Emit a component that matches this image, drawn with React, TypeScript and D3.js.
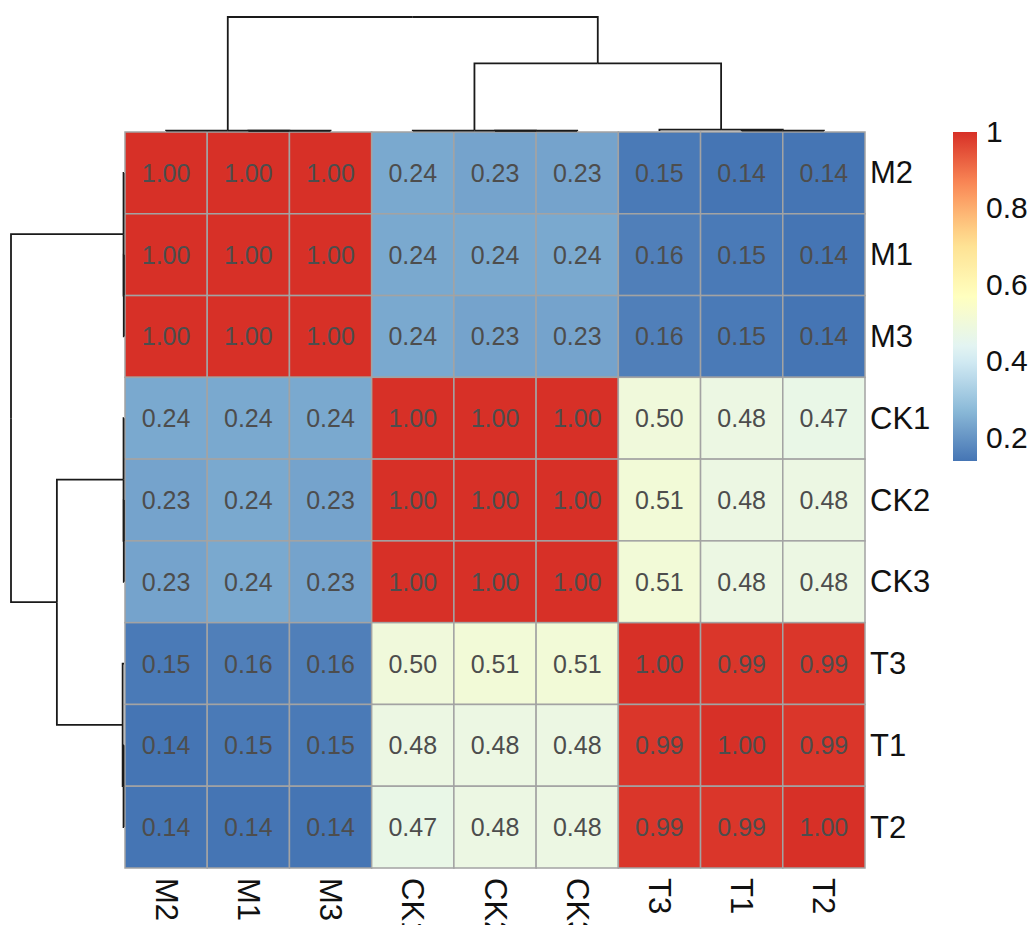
import React, { useEffect, useRef } from "react";
import * as d3 from "d3";

// sample order after clustering (rows and columns share it)
const rowLabels = ["M2", "M1", "M3", "CK1", "CK2", "CK3", "T3", "T1", "T2"];
const colLabels = ["M2", "M1", "M3", "CK1", "CK2", "CK3", "T3", "T1", "T2"];

const corrM2 = [1.0, 1.0, 1.0, 0.24, 0.23, 0.23, 0.15, 0.14, 0.14];
const corrM1 = [1.0, 1.0, 1.0, 0.24, 0.24, 0.24, 0.16, 0.15, 0.14];
const corrM3 = [1.0, 1.0, 1.0, 0.24, 0.23, 0.23, 0.16, 0.15, 0.14];
const corrCK1 = [0.24, 0.24, 0.24, 1.0, 1.0, 1.0, 0.5, 0.48, 0.47];
const corrCK2 = [0.23, 0.24, 0.23, 1.0, 1.0, 1.0, 0.51, 0.48, 0.48];
const corrCK3 = [0.23, 0.24, 0.23, 1.0, 1.0, 1.0, 0.51, 0.48, 0.48];
const corrT3 = [0.15, 0.16, 0.16, 0.5, 0.51, 0.51, 1.0, 0.99, 0.99];
const corrT1 = [0.14, 0.15, 0.15, 0.48, 0.48, 0.48, 0.99, 1.0, 0.99];
const corrT2 = [0.14, 0.14, 0.14, 0.47, 0.48, 0.48, 0.99, 0.99, 1.0];
const corrRows = [corrM2, corrM1, corrM3, corrCK1, corrCK2, corrCK3, corrT3, corrT1, corrT2];

const legendTicks = [0.2, 0.4, 0.6, 0.8, 1];
// rev(brewer.pal(7, "RdYlBu"))
const paletteColors = ["#4575B4", "#91BFDB", "#E0F3F8", "#FFFFBF", "#FEE090", "#FC8D59", "#D73027"];

// hclust tree: leaves are indices into the order above, h = merge height (relative)
type Node = number | { h: number; children: Node[] };
const rowTree: Node = {
  h: 1,
  children: [
    { h: 0.004, children: [0, { h: 0.002, children: [1, 2] }] },
    {
      h: 0.594,
      children: [
        { h: 0.004, children: [3, { h: 0.002, children: [4, 5] }] },
        { h: 0.012, children: [6, { h: 0.004, children: [7, 8] }] },
      ],
    },
  ],
};
const colTree: Node = rowTree;

const W = 1033;
const H = 925;

export default function App() {
  const ref = useRef<SVGSVGElement>(null);

  useEffect(() => {
    const svg = d3.select(ref.current);
    svg.selectAll("*").remove();

    const left = 125, right = 865, top = 132, bottom = 868;
    const x = d3.scaleBand().domain(d3.range(colLabels.length) as any).range([left, right]);
    const y = d3.scaleBand().domain(d3.range(rowLabels.length) as any).range([top, bottom]);

    const all = corrRows.flat();
    const vmin = d3.min(all) as number, vmax = d3.max(all) as number;
    const color = d3
      .scaleLinear<string>()
      .domain(paletteColors.map((_, i) => vmin + ((vmax - vmin) * i) / (paletteColors.length - 1)))
      .range(paletteColors)
      .interpolate(d3.interpolateRgb);

    const font = "'Liberation Sans', Arial, sans-serif";

    // cells
    const cells = svg.append("g");
    corrRows.forEach((row, r) => {
      row.forEach((v, c) => {
        cells
          .append("rect")
          .attr("x", x(c as any)!)
          .attr("y", y(r as any)!)
          .attr("width", x.bandwidth())
          .attr("height", y.bandwidth())
          .attr("fill", color(v))
          .attr("stroke", "#a3a3a3")
          .attr("stroke-width", 1.5);
      });
    });
    corrRows.forEach((row, r) => {
      row.forEach((v, c) => {
        cells
          .append("text")
          .attr("x", x(c as any)! + x.bandwidth() / 2)
          .attr("y", y(r as any)! + y.bandwidth() / 2)
          .attr("text-anchor", "middle")
          .attr("dominant-baseline", "central")
          .attr("font-family", font)
          .attr("font-size", 25)
          .attr("fill", "#4d4d4d")
          .text(v.toFixed(2));
      });
    });

    // row labels
    svg
      .append("g")
      .selectAll("text")
      .data(rowLabels)
      .enter()
      .append("text")
      .attr("x", right + 5)
      .attr("y", (_, i) => y(i as any)! + y.bandwidth() / 2)
      .attr("dominant-baseline", "central")
      .attr("font-family", font)
      .attr("font-size", 31)
      .attr("fill", "#111")
      .text((d) => d);

    // column labels, rotated (the bottom edge cuts them like in the original)
    svg
      .append("g")
      .selectAll("text")
      .data(colLabels)
      .enter()
      .append("text")
      .attr("transform", (_, i) => `translate(${x(i as any)! + x.bandwidth() / 2},${bottom + 10}) rotate(90)`)
      .attr("dominant-baseline", "central")
      .attr("font-family", font)
      .attr("font-size", 31)
      .attr("fill", "#111")
      .text((d) => d);

    // dendrograms
    const drawTree = (
      tree: Node,
      leafPos: (i: number) => number,
      hPos: (h: number) => number,
      vertical: boolean
    ) => {
      const g = svg.append("g").attr("fill", "none").attr("stroke", "#1a1a1a").attr("stroke-width", 1.8);
      const walk = (n: Node): { p: number; h: number } => {
        if (typeof n === "number") return { p: leafPos(n), h: 0 };
        const kids = n.children.map(walk);
        const p = d3.mean(kids, (k) => k.p) as number;
        kids.forEach((k) => {
          const path = d3.path();
          if (vertical) {
            path.moveTo(k.p, hPos(k.h));
            path.lineTo(k.p, hPos(n.h));
            path.lineTo(p, hPos(n.h));
          } else {
            path.moveTo(hPos(k.h), k.p);
            path.lineTo(hPos(n.h), k.p);
            path.lineTo(hPos(n.h), p);
          }
          g.append("path").attr("d", path.toString());
        });
        return { p, h: n.h };
      };
      walk(tree);
    };

    const colH = d3.scaleLinear().domain([0, 1]).range([131, 17]);
    drawTree(colTree, (i) => x(i as any)! + x.bandwidth() / 2, colH, true);
    const rowH = d3.scaleLinear().domain([0, 1]).range([124, 11]);
    drawTree(rowTree, (i) => y(i as any)! + y.bandwidth() / 2, rowH, false);

    // legend
    const lgTop = 132, lgBottom = 461, lgX = 953, lgW = 24;
    const grad = svg
      .append("defs")
      .append("linearGradient")
      .attr("id", "lg")
      .attr("x1", 0)
      .attr("y1", 1)
      .attr("x2", 0)
      .attr("y2", 0);
    d3.range(0, 1.0001, 0.05).forEach((t) => {
      grad
        .append("stop")
        .attr("offset", t)
        .attr("stop-color", color(vmin + t * (vmax - vmin)));
    });
    svg
      .append("rect")
      .attr("x", lgX)
      .attr("y", lgTop)
      .attr("width", lgW)
      .attr("height", lgBottom - lgTop)
      .attr("fill", "url(#lg)");
    const ly = d3.scaleLinear().domain([vmin, vmax]).range([lgBottom, lgTop]);
    svg
      .append("g")
      .selectAll("text")
      .data(legendTicks)
      .enter()
      .append("text")
      .attr("x", lgX + lgW + 9)
      .attr("y", (d) => ly(d) - 1)
      .attr("dominant-baseline", "central")
      .attr("font-family", font)
      .attr("font-size", 30)
      .attr("fill", "#111")
      .text((d) => String(d));
  }, []);

  return (
    <svg
      ref={ref}
      width={W}
      height={H}
      style={{ position: "absolute", left: 0, top: 0, display: "block", background: "#fff" }}
    />
  );
}
